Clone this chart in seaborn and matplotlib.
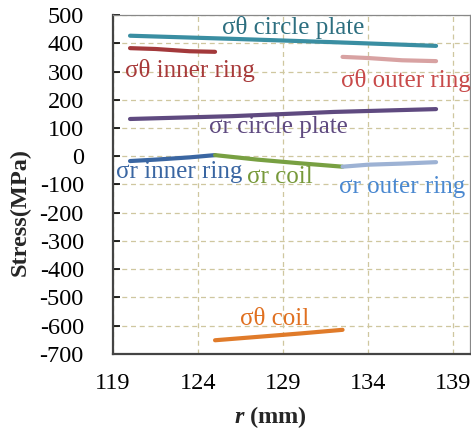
import matplotlib
matplotlib.use("Agg")
import matplotlib.pyplot as plt
import seaborn as sns
import pandas as pd

# ---- data ----
r_plate = [120, 126, 132, 138]
st_plate = [427, 416, 404, 391]          # σθ circle plate
sr_plate = [132, 142, 157, 167]          # σr circle plate

r_inner = [120, 121.5, 123.5, 125]
st_inner = [383, 380, 372, 370]          # σθ inner ring
sr_inner = [-17, -12, -4, 4]             # σr inner ring

r_coil = [125, 127.5, 130, 132.5]
sr_coil = [4, -12, -25, -37]             # σr coil
st_coil = [-652, -640, -628, -615]       # σθ coil

r_outer = [132.5, 134, 136, 138]
st_outer = [352, 348, 340, 337]          # σθ outer ring
sr_outer = [-37, -30, -26, -21]          # σr outer ring

series = [
    ("σθ circle plate", r_plate, st_plate, "#3a8ea2"),
    ("σθ inner ring", r_inner, st_inner, "#a3393b"),
    ("σθ outer ring", r_outer, st_outer, "#d8a2a2"),
    ("σr circle plate", r_plate, sr_plate, "#5f4a80"),
    ("σr inner ring", r_inner, sr_inner, "#3a66a2"),
    ("σr coil", r_coil, sr_coil, "#78a042"),
    ("σr outer ring", r_outer, sr_outer, "#9db2d4"),
    ("σθ coil", r_coil, st_coil, "#e07b2a"),
]

labels = [
    ("σθ circle plate", 129.6, 457, "#2d6f80"),
    ("σθ inner ring", 123.5, 305, "#a83a3a"),
    ("σθ outer ring", 136.2, 270, "#c84a4a"),
    ("σr circle plate", 128.7, 104, "#5f4a80"),
    ("σr inner ring", 122.9, -55, "#3a66a2"),
    ("σr coil", 128.8, -73, "#77993a"),
    ("σr outer ring", 136.0, -109, "#4a88d0"),
    ("σθ coil", 128.5, -576, "#e07020"),
]

sns.set_theme(style="white")
plt.rcParams['font.family'] = ['Liberation Serif', 'DejaVu Serif']
plt.rcParams['axes.unicode_minus'] = False
plt.rcParams['mathtext.fontset'] = 'custom'
plt.rcParams['mathtext.rm'] = 'Liberation Serif'
plt.rcParams['mathtext.bf'] = 'Liberation Serif:bold'
plt.rcParams['mathtext.it'] = 'Liberation Serif:italic'
plt.rcParams['mathtext.bfit'] = 'Liberation Serif:bold:italic'

fig = plt.figure(figsize=(4.71, 4.32), dpi=100)
ax = fig.add_axes([0.240, 0.181, 0.758, 0.784])

for name, xs, ys, c in series:
    df = pd.DataFrame({"r": xs, "s": ys})
    sns.lineplot(data=df, x="r", y="s", ax=ax, color=c, linewidth=3.0,
                 solid_capstyle="round", zorder=3)

for txt, x, y, c in labels:
    ax.text(x, y, txt, color=c, fontsize=18, ha="center", va="center", zorder=4)

ax.set_xlim(119, 140)
ax.set_ylim(-700, 500)
ax.set_xticks([119, 124, 129, 134, 139])
ax.set_yticks(list(range(-700, 501, 100)))
ax.grid(True, linestyle=(0, (4, 3)), color="#cfc79f", linewidth=0.9)
ax.tick_params(axis="x", labelsize=17.5, colors="black", length=0, pad=14)
ax.tick_params(axis="y", labelsize=17.5, colors="black", direction="in",
               length=5, width=1.2, left=True, pad=21)

for s in ["left", "bottom"]:
    ax.spines[s].set_color("#444444")
    ax.spines[s].set_linewidth(1.6)
for s in ["top", "right"]:
    ax.spines[s].set_color("#888888")
    ax.spines[s].set_linewidth(0.9)

ax.set_xlabel(r"$\boldsymbol{r}$ (mm)", fontsize=17.5, fontweight="bold")
ax.set_ylabel("Stress(MPa)", fontsize=17.5, fontweight="bold")
ax.xaxis.set_label_coords((270 - 113) / 357, -(417 - 354) / 339)
ax.yaxis.set_label_coords(-(113 - 20) / 357, (354 - 212) / 339)
ax.xaxis.label.set_va("center")
ax.yaxis.label.set_va("center")

fig.savefig("out.png", dpi=100)
